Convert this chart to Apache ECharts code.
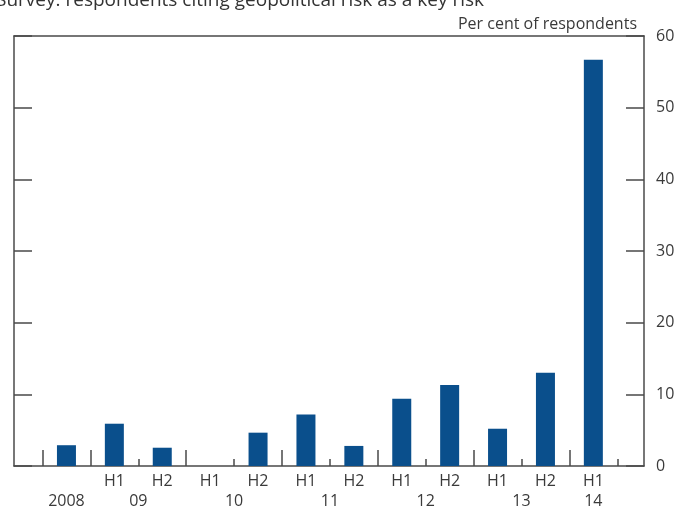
<!DOCTYPE html>
<html>
<head>
<meta charset="utf-8">
<script src="https://cdn.jsdelivr.net/npm/echarts@6/dist/echarts.min.js"></script>
<style>html,body{margin:0;padding:0;background:#fff;}#c{width:681px;height:511px;}</style>
</head>
<body>
<div id="c"></div>
<script>
// Data
var halfLabels = ['', 'H1', 'H2', 'H1', 'H2', 'H1', 'H2', 'H1', 'H2', 'H1', 'H2', 'H1'];
var values = [2.9, 5.9, 2.55, 0, 4.65, 7.2, 2.8, 9.4, 11.3, 5.2, 13.0, 56.7];
var yearLabels = ['2008', '09', '10', '11', '12', '13', '14'];
// position of each year label in half-band steps along the category axis
var yearSlots = [1, 4, 8, 12, 16, 20, 23];
var yTicks = [0, 10, 20, 30, 40, 50, 60];
var unitLabel = 'Per cent of respondents';
var titleText = 'Survey: respondents citing geopolitical risk as a key risk';

var nSlots = halfLabels.length * 2 + 1;
var yearSlotData = [];
for (var i = 0; i < nSlots; i++) yearSlotData.push('');
yearSlots.forEach(function (s, k) { yearSlotData[s] = yearLabels[k]; });

var tallSet = [0, 1, 3, 5, 7, 9];        // year boundaries (last added automatically)
var shortSet = [2, 4, 6, 8, 10];         // mid-year boundaries (last added automatically)
var tallCats = halfLabels.slice(0, halfLabels.length - 1);

var txt = '#3a3a3a';
var lineCol = '#4a4a4a';
var font = 'Open Sans';
var fs = 16;

var chart = echarts.init(document.getElementById('c'), null, {renderer: 'canvas'});
chart.setOption({
  animation: false,
  backgroundColor: '#fff',
  textStyle: {fontFamily: font},
  title: [
    {text: titleText, left: -9, top: -14, textStyle: {fontSize: 19, fontWeight: 'normal', color: '#333', fontFamily: font}},
    {text: unitLabel, right: 39, top: 11, textStyle: {fontSize: fs, fontWeight: 'normal', color: txt, fontFamily: font}}
  ],
  grid: [
    {left: 14, right: 37, top: 36, bottom: 45},
    {left: 42.5, right: 63.7, top: 36, bottom: 45},
    {left: 42.5, right: 111.6, top: 36, bottom: 45}
  ],
  xAxis: [
    {gridIndex: 0, type: 'value', min: 0, max: 1, position: 'bottom',
      axisLine: {show: true, onZero: false, lineStyle: {color: lineCol, width: 1.5}},
      axisTick: {show: false}, axisLabel: {show: false}, splitLine: {show: false}},
    {gridIndex: 0, type: 'value', min: 0, max: 1, position: 'top',
      axisLine: {show: true, onZero: false, lineStyle: {color: lineCol, width: 1.5}},
      axisTick: {show: false}, axisLabel: {show: false}, splitLine: {show: false}},
    {gridIndex: 1, type: 'category', data: halfLabels, position: 'bottom',
      axisLine: {show: false, onZero: false},
      axisTick: {show: true, inside: true, length: 7, lineStyle: {color: lineCol, width: 1.5},
        interval: function (idx) { return shortSet.indexOf(idx) >= 0; }},
      axisLabel: {show: true, interval: 0, margin: 7, fontSize: fs, color: txt, fontFamily: font}},
    {gridIndex: 1, type: 'category', data: yearSlotData, boundaryGap: false, position: 'bottom',
      axisLine: {show: false, onZero: false}, axisTick: {show: false},
      axisLabel: {show: true, interval: 0, margin: 27, fontSize: fs, color: txt, fontFamily: font}},
    {gridIndex: 2, type: 'category', data: tallCats, position: 'bottom',
      axisLine: {show: false, onZero: false},
      axisTick: {show: true, inside: true, length: 16, lineStyle: {color: lineCol, width: 1.5},
        interval: function (idx) { return tallSet.indexOf(idx) >= 0; }},
      axisLabel: {show: false}}
  ],
  yAxis: [
    {gridIndex: 0, type: 'value', min: yTicks[0], max: yTicks[yTicks.length - 1], interval: 10, position: 'left',
      axisLine: {show: true, onZero: false, lineStyle: {color: lineCol, width: 1.5}},
      axisTick: {show: true, inside: true, length: 18, lineStyle: {color: lineCol, width: 1.5}},
      axisLabel: {show: false}, splitLine: {show: false}},
    {gridIndex: 0, type: 'value', min: yTicks[0], max: yTicks[yTicks.length - 1], interval: 10, position: 'right',
      axisLine: {show: true, onZero: false, lineStyle: {color: lineCol, width: 1.5}},
      axisTick: {show: true, inside: true, length: 18, lineStyle: {color: lineCol, width: 1.5}},
      axisLabel: {show: true, margin: 12, fontSize: fs, color: txt, fontFamily: font, padding: [5, 0, 0, 0]},
      splitLine: {show: false}},
    {gridIndex: 1, type: 'value', min: 0, max: 60, show: false},
    {gridIndex: 2, type: 'value', min: 0, max: 60, show: false}
  ],
  series: [
    {type: 'bar', xAxisIndex: 2, yAxisIndex: 2, data: values, barWidth: 19,
      itemStyle: {color: '#0a4f8c'}}
  ]
});
</script>
</body>
</html>
